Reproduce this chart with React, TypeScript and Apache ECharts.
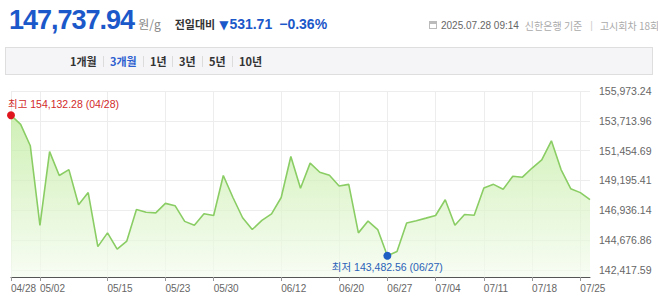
import React, { useEffect, useRef } from "react";
import * as echarts from "echarts";

const dates = [
  "04/28", "04/29", "04/30", "05/02", "05/07", "05/08", "05/09", "05/12", "05/13", "05/14",
  "05/15", "05/16", "05/19", "05/20", "05/21", "05/22", "05/23", "05/26", "05/27", "05/28",
  "05/29", "05/30", "06/02", "06/04", "06/05", "06/09", "06/10", "06/11", "06/12", "06/13",
  "06/16", "06/17", "06/18", "06/19", "06/20", "06/23", "06/24", "06/25", "06/26", "06/27",
  "06/30", "07/01", "07/02", "07/03", "07/04", "07/07", "07/08", "07/09", "07/10", "07/11",
  "07/14", "07/15", "07/16", "07/17", "07/18", "07/21", "07/22", "07/23", "07/24", "07/25",
  "07/28",
];

const prices = [
  154132.28, 153439.7, 151823.7, 145791.7, 151376.9, 149567.3, 150014.1, 147355.5, 148271.5, 144175.7,
  145218.2, 143982.0, 144600.1, 146983.2, 146782.1, 146737.4, 147452.3, 147281.1, 146089.5, 145791.7,
  146663.0, 146536.4, 149567.3, 147899.2, 146365.1, 145471.4, 146164.0, 146663.0, 147899.2, 151004.6,
  148599.2, 150505.6, 149813.0, 149589.6, 148770.5, 148897.1, 145218.2, 146111.9, 145471.4, 143482.56,
  143803.3, 145962.9, 146141.7, 146335.3, 146536.4, 147727.9, 145791.7, 146610.8, 146558.7, 148621.5,
  148897.1, 148524.7, 149515.2, 149440.7, 150133.3, 150758.8, 152196.1, 150014.1, 148569.4, 148269.65,
  147737.94,
];

const xLabelIndices = [0, 3, 10, 16, 21, 28, 34, 39, 44, 49, 54, 59];
const yTickValues = [142417.59, 144676.86, 146936.14, 149195.41, 151454.69, 153713.96, 155973.24];
const yMin = 141873;
const yMax = 155973.24;

const periods = ["1개월", "3개월", "1년", "3년", "5년", "10년"];
const activePeriod = "3개월";
const currentPrice = "147,737.94";
const unit = "원/g";
const changeLabel = "전일대비";
const changeValue = "531.71";
const changePct = "−0.36%";
const timestamp = "2025.07.28 09:14";
const bankNote = "신한은행 기준";
const roundNote = "고시회차 18회";
const maxPrefix = "최고";
const minPrefix = "최저";

const FONT = "'Liberation Sans', Arial, 'Noto Sans CJK KR', sans-serif";
const KFONT = "'Noto Sans CJK KR', 'Liberation Sans', sans-serif";

const fmt = (v: number) =>
  v.toLocaleString("en-US", { minimumFractionDigits: 2, maximumFractionDigits: 2 });

function Chart() {
  const ref = useRef<HTMLDivElement>(null);
  useEffect(() => {
    if (!ref.current) return;
    const chart = echarts.init(ref.current, undefined, { renderer: "svg" });
    const labelSet = new Set(xLabelIndices);
    let maxIdx = 0;
    let minIdx = 0;
    prices.forEach((p, i) => {
      if (p > prices[maxIdx]) maxIdx = i;
      if (p < prices[minIdx]) minIdx = i;
    });
    chart.setOption({
      animation: false,
      grid: { left: 11, right: 68, top: 91, bottom: 30 },
      xAxis: {
        type: "category",
        data: dates,
        boundaryGap: false,
        axisLine: { lineStyle: { color: "#555", width: 1 } },
        axisTick: {
          interval: (i: number) => labelSet.has(i),
          length: 4,
          lineStyle: { color: "#999" },
        },
        axisLabel: {
          interval: (i: number) => labelSet.has(i),
          align: "left",
          margin: 6,
          color: "#666",
          fontSize: 10,
          fontFamily: FONT,
        },
        splitLine: {
          show: true,
          interval: (i: number) => labelSet.has(i),
          lineStyle: { color: "#ededed" },
        },
      },
      yAxis: {
        type: "value",
        position: "right",
        min: yMin,
        max: yMax,
        axisLine: { show: false },
        axisTick: { show: false, customValues: yTickValues },
        axisLabel: {
          customValues: yTickValues,
          formatter: (v: number) => fmt(v),
          margin: 9,
          color: "#666",
          fontSize: 10.5,
          fontFamily: FONT,
        },
        splitLine: { show: true, lineStyle: { color: "#ededed" } },
      },
      series: [
        {
          type: "line",
          data: prices,
          symbol: "none",
          lineStyle: { color: "#8acd64", width: 1.6 },
          areaStyle: {
            color: new echarts.graphic.LinearGradient(0, 0, 0, 1, [
              { offset: 0, color: "#bbea97" },
              { offset: 1, color: "#f5fcef" },
            ]),
          },
          markPoint: {
            symbol: "circle",
            symbolSize: 8,
            silent: true,
            data: [
              {
                coord: [dates[maxIdx], prices[maxIdx]],
                value: prices[maxIdx],
                itemStyle: { color: "#e0161f" },
                label: {
                  show: true,
                  formatter: `${maxPrefix} ${fmt(prices[maxIdx])} (${dates[maxIdx]})`,
                  color: "#d22a2a",
                  fontSize: 10.5,
                  fontFamily: FONT,
                  position: [1, -7],
                  align: "left",
                  verticalAlign: "middle",
                },
              },
              {
                coord: [dates[minIdx], prices[minIdx]],
                value: prices[minIdx],
                itemStyle: { color: "#1f5fc4" },
                label: {
                  show: true,
                  formatter: `${minPrefix} ${fmt(prices[minIdx])} (${dates[minIdx]})`,
                  color: "#2a62b8",
                  fontSize: 10.5,
                  fontFamily: FONT,
                  position: [4, 15],
                  align: "center",
                  verticalAlign: "middle",
                },
              },
            ],
          },
        },
      ],
    });
    return () => chart.dispose();
  }, []);
  return <div ref={ref} style={{ position: "absolute", left: 0, top: 0, width: 658, height: 307 }} />;
}

const periodLefts = [70, 110, 150, 179, 209, 239];
const sepLefts = [103, 143, 172, 202, 232];

export default function App() {
  return (
    <div
      style={{
        position: "fixed",
        left: 0,
        top: 0,
        width: 658,
        height: 307,
        background: "#fff",
        overflow: "hidden",
        fontFamily: FONT,
      }}
    >
      <Chart />
      <div
        style={{
          position: "absolute",
          left: 9,
          top: 5,
          display: "flex",
          alignItems: "baseline",
          whiteSpace: "nowrap",
        }}
      >
        <span style={{ fontSize: 27, fontWeight: "bold", letterSpacing: -1, color: "#1b58c9", fontFamily: FONT }}>
          {currentPrice}
        </span>
        <span style={{ fontSize: 12, color: "#888", marginLeft: 4, fontFamily: KFONT }}>{unit}</span>
        <span style={{ fontSize: 11, fontWeight: "bold", color: "#333", marginLeft: 14, fontFamily: KFONT }}>
          {changeLabel}
        </span>
        <span style={{ fontSize: 12, color: "#1b58c9", marginLeft: 4, fontFamily: "'DejaVu Sans', sans-serif" }}>▼</span>
        <span style={{ fontSize: 14, fontWeight: "bold", color: "#1b58c9", marginLeft: 1 }}>{changeValue}</span>
        <span style={{ fontSize: 14, fontWeight: "bold", color: "#1b58c9", marginLeft: 7 }}>{changePct}</span>
      </div>
      <div
        style={{
          position: "absolute",
          left: 429,
          top: 17,
          display: "flex",
          alignItems: "center",
          whiteSpace: "nowrap",
          fontSize: 10,
          height: 16,
        }}
      >
        <span
          style={{
            display: "inline-block",
            width: 8,
            height: 8,
            border: "1px solid #bbb",
            borderTopWidth: 3,
            marginRight: 4,
            boxSizing: "border-box",
          }}
        />
        <span style={{ color: "#666" }}>{timestamp}</span>
        <span style={{ color: "#aaa", marginLeft: 6, fontFamily: KFONT }}>{bankNote}</span>
        <span style={{ color: "#ccc", marginLeft: 8, marginRight: 7 }}>|</span>
        <span style={{ color: "#aaa", fontFamily: KFONT }}>{roundNote}</span>
      </div>
      <div
        style={{
          position: "absolute",
          left: 5,
          top: 47,
          width: 648,
          height: 28,
          boxSizing: "border-box",
          background: "#f5f5f7",
          border: "1px solid #dedede",
        }}
      />
      {periods.map((p, i) => (
        <div
          key={p}
          style={{
            position: "absolute",
            left: periodLefts[i],
            top: 53,
            height: 17,
            lineHeight: "17px",
            fontSize: 11,
            fontWeight: "bold",
            fontFamily: KFONT,
            color: p === activePeriod ? "#2e5fd0" : "#333",
            whiteSpace: "nowrap",
          }}
        >
          {p}
        </div>
      ))}
      {sepLefts.map((x) => (
        <div
          key={x}
          style={{ position: "absolute", left: x, top: 56, width: 1, height: 11, background: "#dcdcdc" }}
        />
      ))}
    </div>
  );
}
